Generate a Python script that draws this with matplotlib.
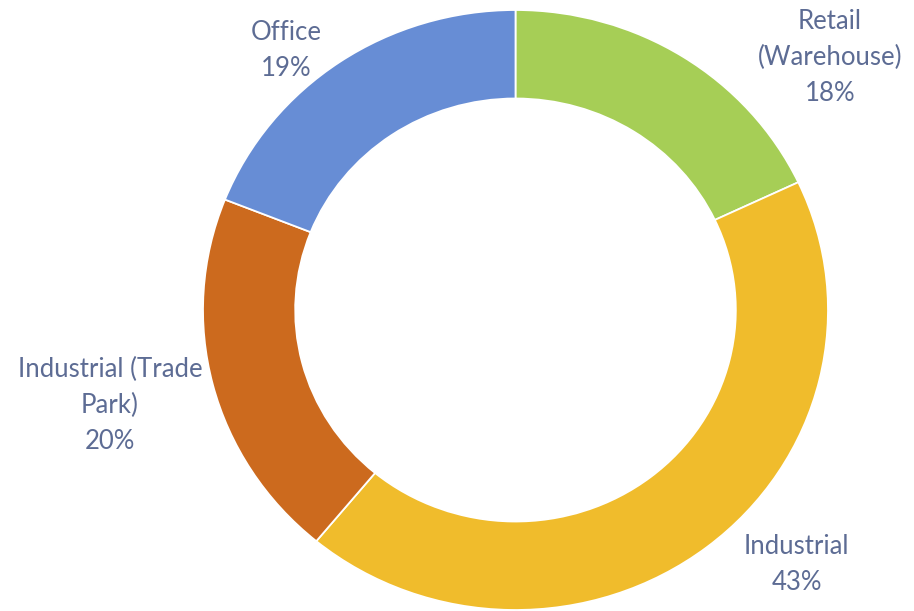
import matplotlib.pyplot as plt

# Share of floor space by property type
labels = ["Retail\n(Warehouse)", "Industrial", "Industrial (Trade\nPark)", "Office"]
shares = [18, 43, 20, 19]
colors = ["#A6CE56", "#F0BC2C", "#CC6A1E", "#678DD5"]

# label anchor points (x, y) in data units around the ring
label_pos = [(1.006, 0.843), (0.90, -0.85), (-1.298, -0.317), (-0.734, 0.865)]

fig = plt.figure(figsize=(9.14, 6.11), dpi=100)
ax = fig.add_axes([0, 0, 1, 1])

wedges, _ = ax.pie(shares, colors=colors, startangle=90, counterclock=False,
                   radius=1.0, wedgeprops=dict(width=0.295, edgecolor="white", linewidth=1.3))

# ring is slightly wider than tall, so let the axes stretch it
ax.set_aspect("auto")
rx, ry = 312.5, 300.0
cx, cy = 515.5, 310.0
ax.set_xlim(-cx / rx, (914 - cx) / rx)
ax.set_ylim(-(611 - cy) / ry, cy / ry)

for lab, val, (x, y) in zip(labels, shares, label_pos):
    ax.text(x, y, lab + "\n" + str(val) + "%", ha="center", va="center",
            fontsize=18.5, color="#5D6C94", family="Lato", linespacing=1.55)

ax.axis("off")
plt.savefig("out.png", dpi=100)
